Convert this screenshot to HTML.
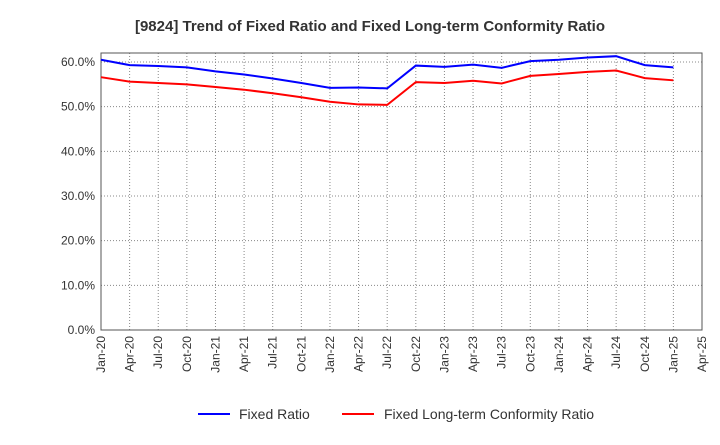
<!DOCTYPE html>
<html><head><meta charset="utf-8"><style>
body{margin:0;background:#fff;font-family:"Liberation Sans",Arial,sans-serif;}
svg text{font-family:"Liberation Sans",Arial,sans-serif;}
</style></head><body>
<svg id="chart" width="720" height="440" xmlns="http://www.w3.org/2000/svg">
<text x="370" y="31" text-anchor="middle" font-size="15" font-weight="bold" fill="#333">[9824]  Trend of Fixed Ratio and Fixed Long-term Conformity Ratio</text>
<g id="grid"></g><g id="axes"></g><g id="series"></g>
<g>
<line x1="198" y1="414" x2="230" y2="414" stroke="#0000ff" stroke-width="2"/>
<text x="239" y="419" font-size="14" fill="#333">Fixed Ratio</text>
<line x1="342" y1="414" x2="374" y2="414" stroke="#ff0000" stroke-width="2"/>
<text x="384" y="419" font-size="14" fill="#333">Fixed Long-term Conformity Ratio</text>
</g>
</svg>
<script>
const xLabels=["Jan-20","Apr-20","Jul-20","Oct-20","Jan-21","Apr-21","Jul-21","Oct-21","Jan-22","Apr-22","Jul-22","Oct-22","Jan-23","Apr-23","Jul-23","Oct-23","Jan-24","Apr-24","Jul-24","Oct-24","Jan-25","Apr-25"];
const yTicks=[0,10,20,30,40,50,60];
const fixedRatio=[60.5,59.3,59.1,58.8,57.9,57.2,56.3,55.3,54.2,54.3,54.1,59.2,58.9,59.4,58.7,60.2,60.5,61.0,61.3,59.3,58.8];
const conformityRatio=[56.6,55.6,55.3,55.0,54.4,53.8,53.0,52.1,51.1,50.5,50.4,55.5,55.3,55.8,55.2,56.9,57.3,57.8,58.1,56.4,55.9];
const L=101,R=702,T=53,B=330;
const xs=i=>L+i*(R-L)/(xLabels.length-1);
const ys=v=>B-v*(B-62)/60;
const NS="http://www.w3.org/2000/svg";
function mk(tag,attrs,parent){const e=document.createElementNS(NS,tag);for(const k in attrs)e.setAttribute(k,attrs[k]);document.getElementById(parent).appendChild(e);return e;}
const bg=mk("rect",{x:L,y:T,width:R-L,height:B-T,fill:"#fff",stroke:"none"},"grid");


xLabels.forEach((lab,i)=>{
 const g=mk("line",{x1:xs(i),x2:xs(i),y1:T,y2:B,stroke:"#888","stroke-dasharray":"1,2","stroke-width":1},"grid");
 
 
 const x=xs(i);
 const t=mk("text",{x:x+4,y:B+6,"font-size":12,fill:"#333","text-anchor":"end",transform:`rotate(-90 ${x+4} ${B+6})`},"axes");
 t.textContent=lab;
 
 
});
yTicks.forEach(v=>{
 const g=mk("line",{x1:L,x2:R,y1:ys(v),y2:ys(v),stroke:"#888","stroke-dasharray":"1,2","stroke-width":1},"grid");
 
 
 const t=mk("text",{x:L-6,y:ys(v)+4,"font-size":12,fill:"#333","text-anchor":"end"},"axes");
 t.textContent=v.toFixed(1)+"%";
 
 
});
const frame=mk("rect",{x:L,y:T,width:R-L,height:B-T,fill:"none",stroke:"#555","stroke-width":1},"axes");


function line(data,color,name){
 const p=mk("polyline",{points:data.map((v,i)=>xs(i)+","+ys(v)).join(" "),fill:"none",stroke:color,"stroke-width":2},"series");
 
 
}
line(fixedRatio,"#0000ff","fixed-ratio-line");
line(conformityRatio,"#ff0000","conformity-ratio-line");
</script>
</body></html>
